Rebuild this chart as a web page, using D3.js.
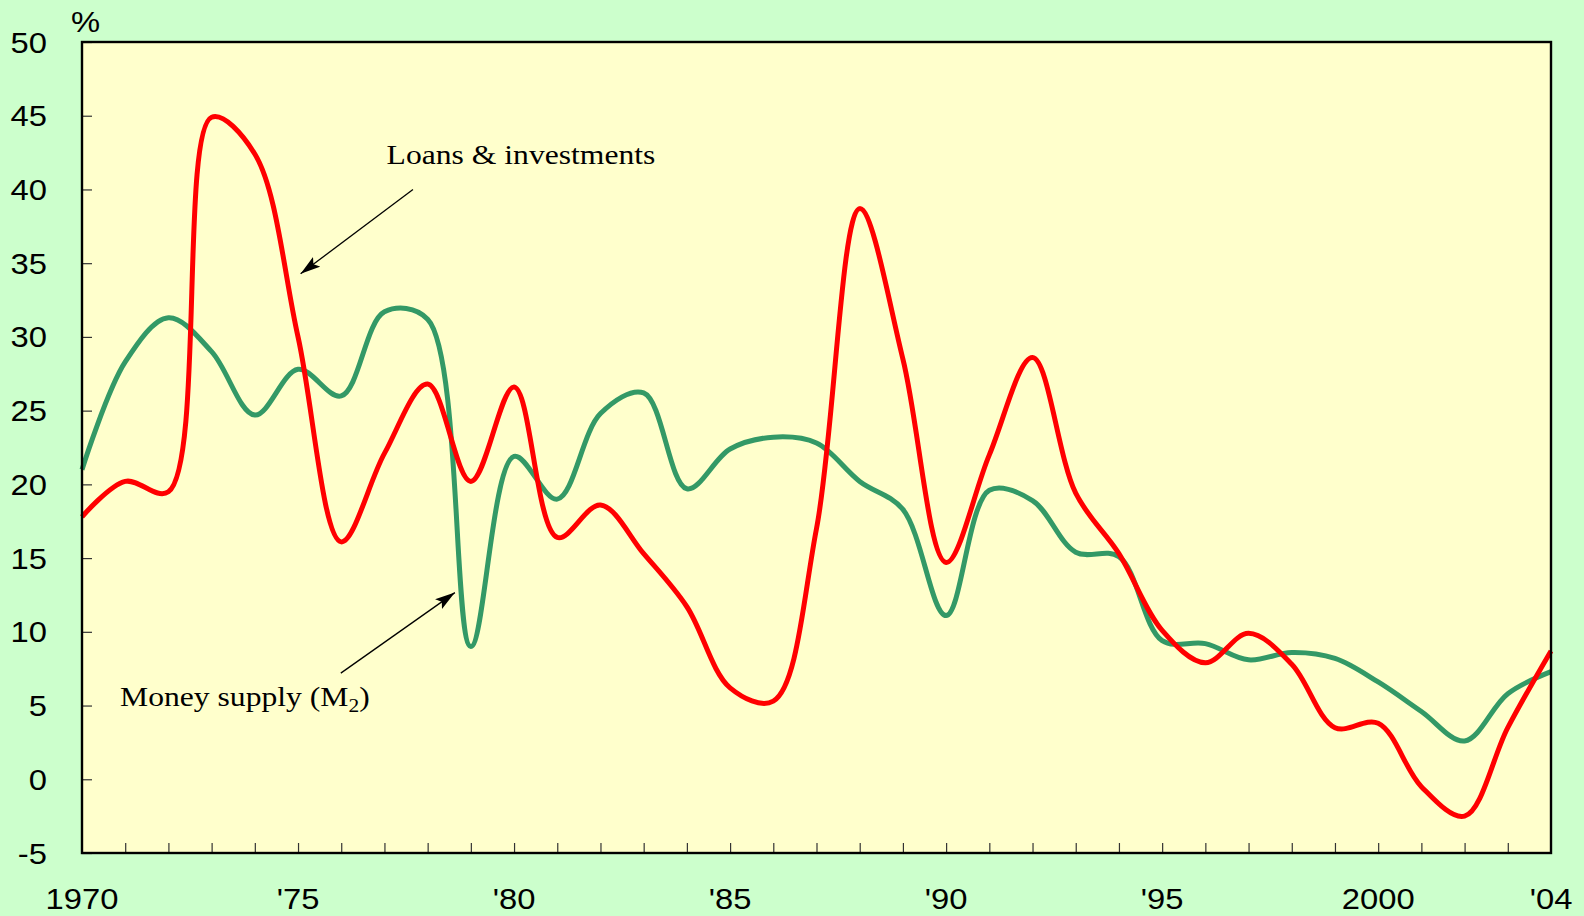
<!DOCTYPE html>
<html>
<head>
<meta charset="utf-8">
<script src="https://cdn.jsdelivr.net/npm/d3@7/dist/d3.min.js"></script>
<style>
  body { margin: 0; background: #ccffcc; }
  svg { display: block; }
</style>
</head>
<body>
<svg id="chart" width="1584" height="916"></svg>
<script>
// annual growth rates, %
var years = d3.range(1970, 2005);
var loans = [17.8, 20.2, 19.5, 44.9, 42.4, 30.0, 16.1, 22.1, 26.8, 20.2,
             26.6, 16.4, 18.6, 15.3, 11.7, 6.2, 5.3, 17.0, 38.7, 28.5,
             14.7, 22.0, 28.6, 19.4, 15.3, 10.1, 7.9, 9.9, 7.8, 3.5,
             3.8, -0.5, -2.5, 3.5, 8.7];
var money = [21.0, 28.3, 31.3, 29.0, 24.7, 27.8, 26.0, 31.7, 31.2, 9.0,
             21.9, 19.0, 24.8, 26.2, 19.7, 22.4, 23.2, 22.8, 20.2, 18.3,
             11.1, 19.6, 18.9, 15.4, 15.1, 9.4, 9.2, 8.1, 8.6, 8.2,
             6.6, 4.6, 2.6, 5.8, 7.3];

var yTicks = d3.range(-5, 51, 5);
var xLabelYears = [1970, 1975, 1980, 1985, 1990, 1995, 2000, 2004];
var xLabels = ["1970", "'75", "'80", "'85", "'90", "'95", "2000", "'04"];

// callouts, anchored in data units
var notes = [
  { text: "Loans & investments", sub: null, year: 1977.05, value: 41.76,
    from: [1977.66, 40.0], to: [1975.06, 34.28] },
  { text: "Money supply (M", sub: "2", year: 1970.88, value: 4.97,
    from: [1975.99, 7.2], to: [1978.63, 12.66] }
];

var svg = d3.select("#chart");
// note: "top" is taken by window.top, so use a box object
var box = { left: 82, right: 1551, top: 42, bottom: 853 };
var stretch = 1.13; // type in the original is a bit wide

var x = d3.scaleLinear().domain([1970, 2004]).range([box.left, box.right]);
var y = d3.scaleLinear().domain([-5, 50]).range([box.bottom, box.top]);

svg.append("rect")
  .attr("width", 1584).attr("height", 916)
  .attr("fill", "#ccffcc");

svg.append("rect")
  .attr("x", box.left).attr("y", box.top)
  .attr("width", box.right - box.left).attr("height", box.bottom - box.top)
  .attr("fill", "#ffffcc");

// tick marks pointing inward
svg.append("g")
  .attr("transform", "translate(" + box.left + ",0)")
  .call(d3.axisLeft(y).tickValues(yTicks).tickSize(-10).tickFormat(""))
  .call(function(g) {
    g.select(".domain").remove();
    g.selectAll("line").attr("stroke", "#333").attr("stroke-width", 1.2);
  });

svg.append("g")
  .attr("transform", "translate(0," + box.bottom + ")")
  .call(d3.axisBottom(x).tickValues(d3.range(1971, 2004)).tickSize(-10).tickFormat(""))
  .call(function(g) {
    g.select(".domain").remove();
    g.selectAll("line").attr("stroke", "#333").attr("stroke-width", 1.2);
  });

// tick labels
svg.append("g").selectAll("text")
  .data(yTicks)
  .enter().append("text")
  .attr("transform", function(d) { return "translate(47," + (y(d) + 10.5) + ") scale(" + stretch + ",1)"; })
  .attr("text-anchor", "end")
  .style("font-family", "'Liberation Sans', Arial, sans-serif")
  .style("font-size", "29px")
  .text(function(d) { return d; });

svg.append("g").selectAll("text")
  .data(xLabelYears)
  .enter().append("text")
  .attr("transform", function(d) { return "translate(" + x(d) + ",909) scale(" + stretch + ",1)"; })
  .attr("text-anchor", "middle")
  .style("font-family", "'Liberation Sans', Arial, sans-serif")
  .style("font-size", "29px")
  .text(function(d, i) { return xLabels[i]; });

svg.append("text")
  .attr("transform", "translate(71,32) scale(" + stretch + ",1)")
  .style("font-family", "'Liberation Sans', Arial, sans-serif")
  .style("font-size", "29px")
  .text("%");

// series
var line = d3.line()
  .x(function(d) { return x(d[0]); })
  .y(function(d) { return y(d[1]); })
  .curve(d3.curveCatmullRom.alpha(0.5));

svg.append("path")
  .datum(years.map(function(yr, i) { return [yr, money[i]]; }))
  .attr("d", line)
  .attr("fill", "none")
  .attr("stroke", "#339966")
  .attr("stroke-width", 5)
  .attr("stroke-linejoin", "round");

svg.append("path")
  .datum(years.map(function(yr, i) { return [yr, loans[i]]; }))
  .attr("d", line)
  .attr("fill", "none")
  .attr("stroke", "#ff0000")
  .attr("stroke-width", 5)
  .attr("stroke-linejoin", "round");

// frame
svg.append("rect")
  .attr("x", box.left).attr("y", box.top)
  .attr("width", box.right - box.left).attr("height", box.bottom - box.top)
  .attr("fill", "none")
  .attr("stroke", "#000")
  .attr("stroke-width", 2.4);

// arrowheads
svg.append("defs").append("marker")
  .attr("id", "head")
  .attr("viewBox", "0 0 20 12")
  .attr("refX", 20).attr("refY", 6)
  .attr("markerWidth", 20).attr("markerHeight", 12)
  .attr("markerUnits", "userSpaceOnUse")
  .attr("orient", "auto")
  .append("path")
  .attr("d", "M0,0 L20,6 L0,12 L4,6 Z")
  .attr("fill", "#000");

var note = svg.append("g").selectAll("g")
  .data(notes)
  .enter().append("g");

note.append("line")
  .attr("x1", function(d) { return x(d.from[0]); })
  .attr("y1", function(d) { return y(d.from[1]); })
  .attr("x2", function(d) { return x(d.to[0]); })
  .attr("y2", function(d) { return y(d.to[1]); })
  .attr("stroke", "#000")
  .attr("stroke-width", 1.3)
  .attr("marker-end", "url(#head)");

var label = note.append("text")
  .attr("transform", function(d) { return "translate(" + x(d.year) + "," + y(d.value) + ") scale(" + stretch + ",1)"; })
  .style("font-family", "'Liberation Serif', 'Times New Roman', serif")
  .style("font-size", "28px");

label.append("tspan").text(function(d) { return d.text; });
label.filter(function(d) { return d.sub; })
  .each(function(d) {
    var t = d3.select(this);
    t.append("tspan").attr("dy", 6).style("font-size", "19px").text(d.sub);
    t.append("tspan").attr("dy", -6).text(")");
  });
</script>
</body>
</html>
